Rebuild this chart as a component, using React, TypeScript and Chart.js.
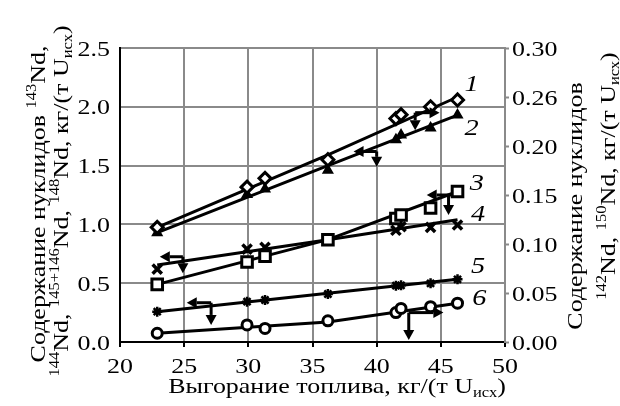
import React, { useEffect, useRef } from "react";
import { Chart, registerables } from "chart.js";

Chart.register(...registerables);

const FONT = '"Liberation Serif", "Times New Roman", serif';
const TXT = 22;
const STRETCH = 1.18;

// burnup, kg/(t U) for measured samples
const burnup = [22.9, 29.9, 31.3, 36.2, 41.5, 41.9, 44.2, 46.3];
// curves 1 and 6 are read on the right axis, 2-5 on the left axis
const curve1 = [0.117, 0.158, 0.167, 0.186, 0.228, 0.232, 0.24, 0.247];
const curve2 = [0.93, 1.255, 1.3, 1.46, 1.72, 1.76, 1.82, 1.93];
const curve3 = [0.49, 0.68, 0.73, 0.87, 1.05, 1.08, 1.14, 1.28];
const curve4 = [0.62, 0.79, 0.805, 0.87, 0.95, 0.98, 0.975, 0.995];
const curve5 = [0.258, 0.343, 0.357, 0.408, 0.479, 0.482, 0.499, 0.533];
const curve6 = [0.0089, 0.0174, 0.0139, 0.0216, 0.03, 0.0343, 0.036, 0.0396];

// fitted lines
const fitX = [22.9, 36.2, 46.3];
const fit1 = [0.117, 0.191, 0.25];
const fit2 = [0.93, 1.5, 1.93];
const fit3 = [0.49, 0.87, 1.28];
const fit4 = [0.655, 0.87, 1.04];
const fit5 = [0.258, 0.414, 0.533];
const fit6 = [0.0089, 0.0204, 0.0396];

const xTickLabels = ["20", "25", "30", "35", "40", "45", "50"];
const yTickLabels = ["0.0", "0.5", "1.0", "1.5", "2.0", "2.5"];
const y1TickLabels = ["0.00", "0.05", "0.10", "0.15", "0.20", "0.26", "0.30"];

const curveNames = ["1", "2", "3", "4", "5", "6"];
const curveNameX = [47.4, 47.4, 47.8, 47.9, 47.9, 48.0];
const curveNameY = [2.2, 1.83, 1.36, 1.1, 0.655, 0.385];

// axis-pointer arrows (data units, left axis)
const arrows = [
  [40.0, 1.62, 38.2, 1.62],
  [40.0, 1.62, 40.0, 1.49],
  [43.0, 1.95, 44.9, 1.95],
  [43.0, 1.95, 43.0, 1.8],
  [45.8, 1.25, 43.9, 1.25],
  [45.6, 1.25, 45.6, 1.08],
  [24.9, 0.725, 23.1, 0.725],
  [24.9, 0.725, 24.9, 0.584],
  [27.1, 0.334, 25.2, 0.334],
  [27.1, 0.334, 27.1, 0.145],
  [42.5, 0.25, 45.2, 0.25],
  [42.5, 0.25, 42.5, 0.017],
];

type Seg = [string, number];
const xTitle: Seg[] = [["Выгорание топлива, кг/(т U", 0], ["исх", -1], [")", 0]];
const yTitle1: Seg[] = [["Содержание нуклидов ", 0], ["143", 1], ["Nd,", 0]];
const yTitle2: Seg[] = [
  ["144", 1], ["Nd, ", 0], ["145+146", 1], ["Nd, ", 0], ["148", 1],
  ["Nd, кг/(т U", 0], ["исх", -1], [")", 0],
];
const y1Title1: Seg[] = [["Содержание нуклидов", 0]];
const y1Title2: Seg[] = [["142", 1], ["Nd, ", 0], ["150", 1], ["Nd, кг/(т U", 0], ["исх", -1], [")", 0]];

function pts(xs: number[], ys: number[]) {
  return xs.map((x, i) => ({ x, y: ys[i] }));
}

function stretchText(ctx: CanvasRenderingContext2D, s: string, x: number, y: number, align: CanvasTextAlign) {
  ctx.save();
  ctx.translate(x, y);
  ctx.scale(STRETCH, 1);
  ctx.textAlign = align;
  ctx.fillText(s, 0, 0);
  ctx.restore();
}

function richText(ctx: CanvasRenderingContext2D, segs: Seg[], x: number, y: number, rotate: boolean, size: number) {
  ctx.save();
  ctx.translate(x, y);
  if (rotate) ctx.rotate(-Math.PI / 2);
  ctx.scale(STRETCH, 1);
  ctx.textAlign = "left";
  ctx.textBaseline = "alphabetic";
  const fontOf = (m: number) => `${m ? Math.round(size * 0.63) : size}px ${FONT}`;
  let total = 0;
  const widths = segs.map(([t, m]) => {
    ctx.font = fontOf(m);
    const w = ctx.measureText(t).width;
    total += w;
    return w;
  });
  let cx = -total / 2;
  segs.forEach(([t, m], i) => {
    ctx.font = fontOf(m);
    const dy = m === 1 ? -size * 0.4 : m === -1 ? size * 0.2 : 0;
    ctx.fillText(t, cx, dy);
    cx += widths[i];
  });
  ctx.restore();
}

const decorPlugin = {
  id: "decor",
  afterDatasetsDraw(chart: any) {
    const ctx: CanvasRenderingContext2D = chart.ctx;
    const xs = chart.scales.x;
    const ys = chart.scales.y;
    ctx.save();
    ctx.strokeStyle = "#000";
    ctx.fillStyle = "#000";
    ctx.lineWidth = 3;
    arrows.forEach(([x0, y0, x1, y1]) => {
      const px0 = xs.getPixelForValue(x0);
      const py0 = ys.getPixelForValue(y0);
      const px1 = xs.getPixelForValue(x1);
      const py1 = ys.getPixelForValue(y1);
      const ang = Math.atan2(py1 - py0, px1 - px0);
      const hl = 10;
      const hw = 5.5;
      const bx = px1 - Math.cos(ang) * hl;
      const by = py1 - Math.sin(ang) * hl;
      ctx.beginPath();
      ctx.moveTo(px0, py0);
      ctx.lineTo(bx, by);
      ctx.stroke();
      ctx.beginPath();
      ctx.moveTo(px1, py1);
      ctx.lineTo(bx - Math.sin(ang) * hw, by + Math.cos(ang) * hw);
      ctx.lineTo(bx + Math.sin(ang) * hw, by - Math.cos(ang) * hw);
      ctx.closePath();
      ctx.fill();
    });
    ctx.font = `italic 24px ${FONT}`;
    ctx.textBaseline = "alphabetic";
    curveNames.forEach((n, i) => {
      stretchText(ctx, n, xs.getPixelForValue(curveNameX[i]), ys.getPixelForValue(curveNameY[i]) + 8, "center");
    });
    ctx.restore();
  },
  afterDraw(chart: any) {
    const ctx: CanvasRenderingContext2D = chart.ctx;
    const { x, y, y1 } = chart.scales;
    const area = chart.chartArea;
    ctx.save();
    ctx.fillStyle = "#000";
    ctx.font = `${TXT}px ${FONT}`;
    ctx.textBaseline = "alphabetic";
    x.ticks.forEach((t: any, i: number) => {
      stretchText(ctx, xTickLabels[i] ?? "", x.getPixelForTick(i), area.bottom + 31, "center");
    });
    y.ticks.forEach((t: any, i: number) => {
      stretchText(ctx, yTickLabels[i] ?? "", area.left - 10, y.getPixelForTick(i) + 7.5, "right");
    });
    y1.ticks.forEach((t: any, i: number) => {
      stretchText(ctx, y1TickLabels[i] ?? "", area.right + 7, y1.getPixelForTick(i) + 7.5, "left");
    });
    richText(ctx, xTitle, 337, 393, false, TXT);
    richText(ctx, yTitle1, 45, 204, true, TXT);
    richText(ctx, yTitle2, 68, 201, true, TXT);
    richText(ctx, y1Title1, 582, 206, true, TXT);
    richText(ctx, y1Title2, 615, 176, true, TXT);
    ctx.restore();
  },
};

export default function App() {
  const ref = useRef<HTMLCanvasElement | null>(null);
  useEffect(() => {
    document.body.style.margin = "0";
    const canvas = ref.current;
    if (!canvas) return;
    const grey = "#8a8a8a";
    const markerBase = { showLine: false, borderColor: "#000", order: 1 };
    const fitBase = { showLine: true, pointRadius: 0, borderColor: "#000", borderWidth: 3, order: 2, backgroundColor: "#000" };
    const chart = new Chart(canvas, {
      type: "scatter",
      data: {
        datasets: [
          { ...markerBase, data: pts(burnup, curve1), yAxisID: "y1", pointStyle: "rectRot", pointRadius: 6, backgroundColor: "#fff", borderWidth: 3 },
          { ...markerBase, data: pts(burnup, curve2), yAxisID: "y", pointStyle: "triangle", pointRadius: 5.5, backgroundColor: "#000", borderWidth: 1.5 },
          { ...markerBase, data: pts(burnup, curve3), yAxisID: "y", pointStyle: "rect", pointRadius: 7.5, backgroundColor: "#fff", borderWidth: 3 },
          { ...markerBase, data: pts(burnup, curve4), yAxisID: "y", pointStyle: "crossRot", pointRadius: 6.5, backgroundColor: "#000", borderWidth: 3.5 },
          { ...markerBase, data: pts(burnup, curve5), yAxisID: "y", pointStyle: "star", pointRadius: 5, backgroundColor: "#000", borderWidth: 2.5 },
          { ...markerBase, data: pts(burnup, curve6), yAxisID: "y1", pointStyle: "circle", pointRadius: 5, backgroundColor: "#fff", borderWidth: 3 },
          { ...fitBase, data: pts(fitX, fit1), yAxisID: "y1" },
          { ...fitBase, data: pts(fitX, fit2), yAxisID: "y" },
          { ...fitBase, data: pts(fitX, fit3), yAxisID: "y" },
          { ...fitBase, data: pts(fitX, fit4), yAxisID: "y" },
          { ...fitBase, data: pts(fitX, fit5), yAxisID: "y" },
          { ...fitBase, data: pts(fitX, fit6), yAxisID: "y1" },
        ] as any,
      },
      options: {
        responsive: false,
        devicePixelRatio: 1,
        animation: false,
        events: [],
        layout: { padding: { top: 48, left: 0, right: 0, bottom: 0 }, autoPadding: false } as any,
        plugins: { legend: { display: false }, tooltip: { enabled: false } },
        scales: {
          x: {
            type: "linear",
            min: 20,
            max: 50,
            ticks: { stepSize: 5, display: false },
            grid: { color: grey, lineWidth: 2, drawTicks: true, tickLength: 5, tickColor: "#000", tickWidth: 2 },
            border: { color: "#000", width: 2 },
            afterFit: (s: any) => { s.height = 64; },
          },
          y: {
            position: "left",
            min: 0,
            max: 2.5,
            ticks: { stepSize: 0.5, display: false },
            grid: { color: grey, lineWidth: 2, drawTicks: false },
            border: { color: "#000", width: 2 },
            afterFit: (s: any) => { s.width = 120; },
          },
          y1: {
            position: "right",
            min: 0,
            max: 0.3,
            ticks: { stepSize: 0.05, display: false },
            grid: { drawOnChartArea: false, drawTicks: true, tickLength: 4, tickColor: grey, tickWidth: 2 },
            border: { color: grey, width: 2 },
            afterFit: (s: any) => { s.width = 115; },
          },
        } as any,
      },
      plugins: [decorPlugin],
    });
    return () => chart.destroy();
  }, []);
  return <canvas ref={ref} width={620} height={406} style={{ display: "block" }} />;
}
